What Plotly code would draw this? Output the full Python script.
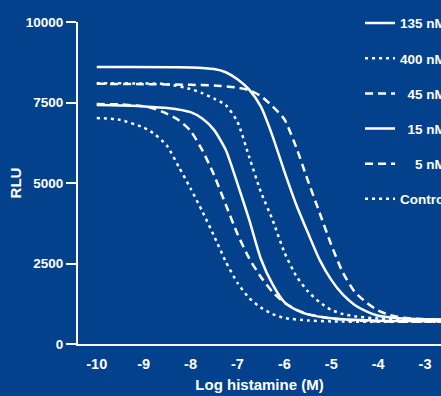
import plotly.graph_objects as go

# ---- data ----
series_names = ["135 nM", "400 nM", "45 nM", "15 nM", "5 nM", "Control"]
legend_labels = ["135 nM", "400 nM", "\u00a0\u00a045 nM", "\u00a0\u00a015 nM", "\u00a0\u00a0\u00a0\u00a05 nM", "Control"]

x_135 = [-10, -8, -7.5, -7.25, -7.0, -6.75, -6.5, -6.25, -6.0, -5.75, -5.5, -5.25, -5.0, -4.75, -4.5, -4.25, -4.0, -3.5, -3.0, -2.6]
y_135 = [8600, 8590, 8540, 8440, 8220, 7900, 7370, 6450, 5360, 4340, 3460, 2620, 1990, 1530, 1210, 1010, 875, 795, 770, 760]

x_400 = [-10, -9, -8.5, -8.0, -7.75, -7.5, -7.25, -7.0, -6.75, -6.5, -6.25, -6.0, -5.75, -5.5, -5.25, -5.0, -4.75, -4.5, -4.0, -3.5, -2.6]
y_400 = [8100, 8090, 8070, 7920, 7790, 7620, 7420, 6900, 5810, 4720, 3850, 2850, 2120, 1640, 1300, 1060, 930, 860, 790, 760, 750]

x_45 = [-10, -9, -8, -7.5, -7.0, -6.75, -6.5, -6.25, -6.0, -5.75, -5.5, -5.25, -5.0, -4.75, -4.5, -4.25, -4.0, -3.75, -3.5, -3.0, -2.6]
y_45 = [8080, 8070, 8050, 8030, 7960, 7880, 7700, 7380, 6980, 6120, 5080, 4080, 3080, 2210, 1620, 1290, 1040, 900, 820, 770, 760]

x_15 = [-10, -9.5, -9.0, -8.5, -8.0, -7.75, -7.5, -7.25, -7.0, -6.75, -6.5, -6.25, -6.0, -5.75, -5.5, -5.0, -4.5, -4.0, -2.6]
y_15 = [7420, 7410, 7380, 7330, 7200, 7000, 6650, 6030, 4980, 3860, 2640, 1850, 1300, 1060, 920, 800, 750, 720, 710]

x_5 = [-10, -9.5, -9.0, -8.75, -8.5, -8.25, -8.0, -7.75, -7.5, -7.25, -7.0, -6.75, -6.5, -6.25, -6.0, -5.75, -5.5, -5.0, -4.5, -4.0, -2.6]
y_5 = [7450, 7440, 7380, 7300, 7150, 6950, 6620, 6020, 5250, 4330, 3420, 2660, 2080, 1610, 1280, 1070, 930, 790, 730, 700, 690]

x_ctrl = [-10, -9.5, -9.0, -8.75, -8.5, -8.25, -8.0, -7.75, -7.5, -7.25, -7.0, -6.75, -6.5, -6.25, -6.0, -5.5, -5.0, -4.0, -2.6]
y_ctrl = [7020, 6960, 6720, 6500, 6150, 5500, 4830, 4120, 3360, 2560, 1900, 1430, 1130, 930, 810, 730, 700, 690, 690]

x_tickvals = [-10, -9, -8, -7, -6, -5, -4, -3]
x_ticktext = ["-10", "-9", "-8", "-7", "-6", "-5", "-4", "-3"]
y_tickvals = [0, 2500, 5000, 7500, 10000]
y_ticktext = ["0", "2500", "5000", "7500", "10000"]

# ---- styling ----
BG = "#03418c"
FONT = "Liberation Sans, Arial, sans-serif"
DOT = "3px,4px"
DASH = "8px,5px"

xs = [x_135, x_400, x_45, x_15, x_5, x_ctrl]
ys = [y_135, y_400, y_45, y_15, y_5, y_ctrl]
dashes = ["solid", DOT, DASH, "solid", DASH, DOT]

fig = go.Figure()
for i in range(len(series_names)):
    fig.add_trace(go.Scatter(
        x=xs[i], y=ys[i], mode="lines", name=legend_labels[i],
        legendgroup=series_names[i],
        line=dict(color="white", width=2.5, dash=dashes[i], shape="spline", smoothing=0.6),
        hoverinfo="skip",
    ))

fig.update_layout(
    width=441, height=396,
    margin=dict(l=78, r=0, t=22, b=52, autoexpand=False),
    paper_bgcolor=BG, plot_bgcolor=BG,
    font=dict(family=FONT, color="white", size=14, weight="bold"),
    showlegend=True,
    legend=dict(
        x=0.777, xanchor="left", y=1.044, yanchor="top",
        font=dict(family=FONT, size=13.5, color="white", weight="bold"),
        bgcolor="rgba(0,0,0,0)", borderwidth=0, maxheight=380,
        itemwidth=30, traceorder="grouped", tracegroupgap=14.6,
    ),
    xaxis=dict(
        range=[-10.4, -2.66], tickmode="array", tickvals=x_tickvals, ticktext=x_ticktext,
        showline=True, linecolor="white", linewidth=2, showgrid=False, zeroline=False,
        ticks="", ticklabelstandoff=6,
        tickfont=dict(family=FONT, size=14.5, color="white", weight="bold"),
        title=dict(text="Log histamine (M)", font=dict(family=FONT, size=15, color="white", weight="bold"), standoff=8),
    ),
    yaxis=dict(
        range=[0, 10000], tickmode="array", tickvals=y_tickvals, ticktext=y_ticktext,
        showline=True, linecolor="white", linewidth=2, showgrid=False, zeroline=False,
        ticks="outside", ticklen=10, tickwidth=1.5, tickcolor="white",
        tickfont=dict(family=FONT, size=13.5, color="white", weight="bold"),
        title=dict(text="RLU", font=dict(family=FONT, size=15, color="white", weight="bold"), standoff=1),
    ),
)

fig.write_html("out.html")
